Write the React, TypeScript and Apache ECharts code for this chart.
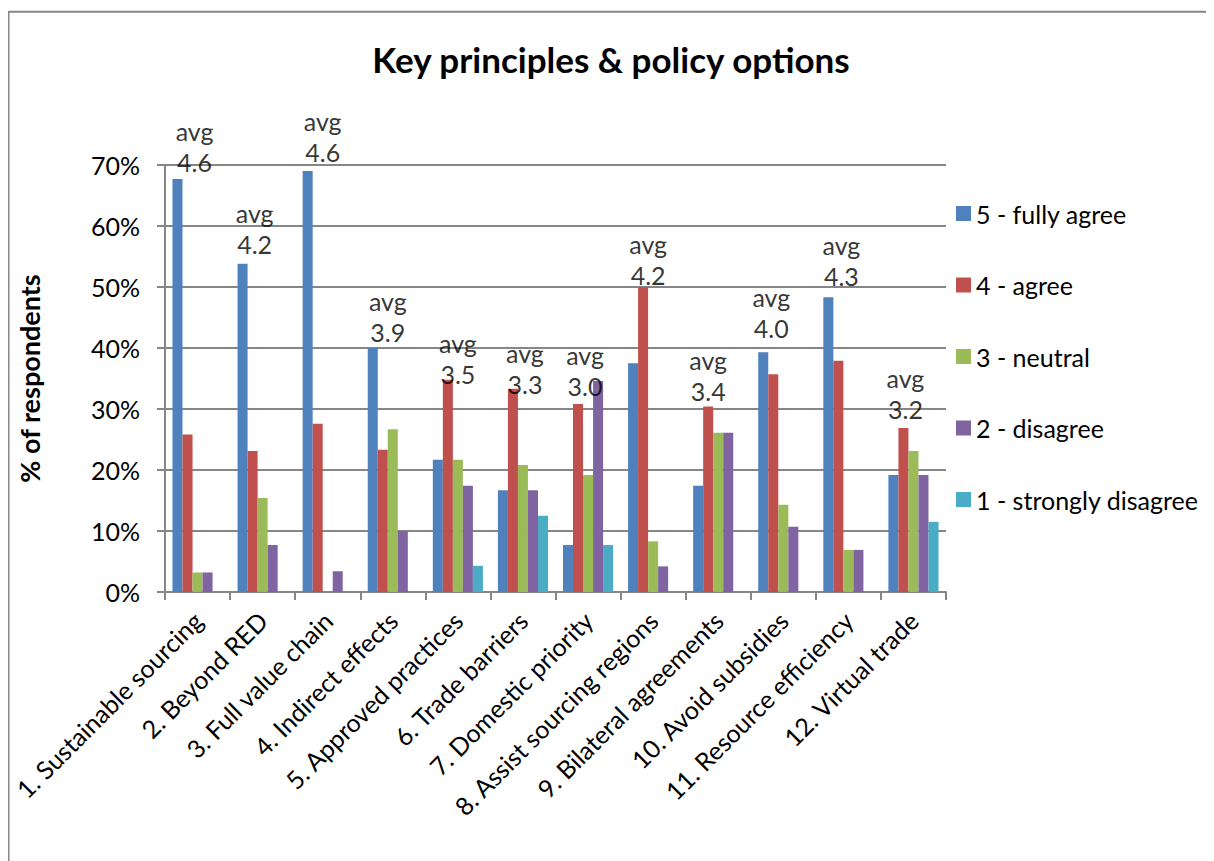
import React, { useEffect, useRef } from "react";
import * as echarts from "echarts";

// Survey statements (x axis)
const categories = [
  "1. Sustainable sourcing",
  "2. Beyond RED",
  "3. Full value chain",
  "4. Indirect effects",
  "5. Approved practices",
  "6. Trade barriers",
  "7. Domestic priority",
  "8. Assist sourcing regions",
  "9. Bilateral agreements",
  "10. Avoid subsidies",
  "11. Resource efficiency",
  "12. Virtual trade",
];

// Share of respondents (%) per answer
const fullyAgree = [67.7, 53.8, 69.0, 40.0, 21.7, 16.7, 7.7, 37.5, 17.4, 39.3, 48.3, 19.2];
const agree = [25.8, 23.1, 27.6, 23.3, 34.8, 33.3, 30.8, 50.0, 30.4, 35.7, 37.9, 26.9];
const neutral = [3.2, 15.4, 0, 26.7, 21.7, 20.8, 19.2, 8.3, 26.1, 14.3, 6.9, 23.1];
const disagree = [3.2, 7.7, 3.4, 10.0, 17.4, 16.7, 34.6, 4.2, 26.1, 10.7, 6.9, 19.2];
const stronglyDisagree = [0, 0, 0, 0, 4.3, 12.5, 7.7, 0, 0, 0, 0, 11.5];

// Average score per statement
const avgScore = [4.6, 4.2, 4.6, 3.9, 3.5, 3.3, 3.0, 4.2, 3.4, 4.0, 4.3, 3.2];

// Axis ticks
const yTicks = [0, 10, 20, 30, 40, 50, 60, 70];

const seriesNames = [
  "5 - fully agree",
  "4 - agree",
  "3 - neutral",
  "2 - disagree",
  "1 - strongly disagree",
];
const seriesValues = [fullyAgree, agree, neutral, disagree, stronglyDisagree];
const colors = ["#4F81BD", "#C0504D", "#9BBB59", "#8064A2", "#4BACC6"];

// Hand-placed nudges (px) for the "avg" callouts above each group
const avgLabelNudge: [number, number][] = [
  [-3, -2], [-8, -4], [-5, -4], [-5, -1], [0, 10], [2, 11],
  [-3, 21], [-5, 3], [-10, 0], [-12, -9], [-7, -6], [-8, -3],
];

const FONT = "Lato, 'Open Sans', sans-serif";
const GRID_COLOR = "#868686";

export default function App() {
  const ref = useRef<HTMLDivElement>(null);

  useEffect(() => {
    if (!ref.current) return;
    const chart = echarts.init(ref.current, undefined, { renderer: "svg" });

    const groupMax = categories.map((_, i) =>
      Math.max(...seriesValues.map((s) => s[i]))
    );

    const barSeries = seriesNames.map((name, k) => ({
      name,
      type: "bar",
      data: seriesValues[k],
      barGap: "0%",
      barCategoryGap: "23%",
      itemStyle: { color: colors[k] },
    }));

    chart.setOption({
      animation: false,
      textStyle: { fontFamily: FONT },
      title: {
        text: "Key principles & policy options",
        left: "center",
        top: 28,
        textStyle: { fontFamily: FONT, fontSize: 35, fontWeight: "bold", color: "#000" },
      },
      legend: {
        orient: "vertical",
        left: 943,
        top: 188,
        itemWidth: 15,
        itemHeight: 15,
        itemGap: 46.5,
        icon: "rect",
        data: seriesNames,
        textStyle: { fontFamily: FONT, fontSize: 25, color: "#000", lineHeight: 25 },
      },
      grid: { left: 154, right: 268, top: 157, bottom: 269, containLabel: false },
      xAxis: {
        type: "category",
        data: categories,
        axisLine: { lineStyle: { color: GRID_COLOR, width: 2 } },
        axisTick: { show: true, length: 8, lineStyle: { color: GRID_COLOR, width: 2 } },
        axisLabel: {
          interval: 0,
          rotate: 45,
          margin: 24,
          fontFamily: FONT,
          fontSize: 25,
          color: "#000",
        },
      },
      yAxis: {
        type: "value",
        min: yTicks[0],
        max: yTicks[yTicks.length - 1],
        interval: 10,
        name: "% of respondents",
        nameLocation: "middle",
        nameGap: 122,
        nameTextStyle: { fontFamily: FONT, fontSize: 27, fontWeight: "bold", color: "#000" },
        axisLine: { show: true, lineStyle: { color: GRID_COLOR, width: 2 } },
        axisTick: { show: true, length: 8, lineStyle: { color: GRID_COLOR, width: 2 } },
        splitLine: { lineStyle: { color: GRID_COLOR, width: 2 } },
        axisLabel: {
          margin: 25,
          fontFamily: FONT,
          fontSize: 25,
          color: "#000",
          formatter: (v: number) => `${v}%`,
        },
      },
      graphic: [
        {
          type: "rect",
          shape: { x: 0.5, y: 3.7, width: 1400, height: 1000 },
          style: { fill: "none", stroke: "#878787", lineWidth: 2 },
          silent: true,
        },
      ],
      series: [
        ...barSeries,
        {
          name: "avg",
          type: "scatter",
          symbolSize: 0,
          silent: true,
          z: 5,
          data: categories.map((_, i) => ({
            value: groupMax[i],
            label: { offset: avgLabelNudge[i] },
          })),
          label: {
            show: true,
            position: "top",
            distance: 0,
            fontFamily: FONT,
            fontSize: 25,
            lineHeight: 31,
            color: "#000",
            align: "center",
            formatter: (p: any) => `avg\n${avgScore[p.dataIndex].toFixed(1)}`,
          },
        },
      ],
    });

    return () => chart.dispose();
  }, []);

  return <div ref={ref} style={{ width: 1206, height: 853 }} />;
}
